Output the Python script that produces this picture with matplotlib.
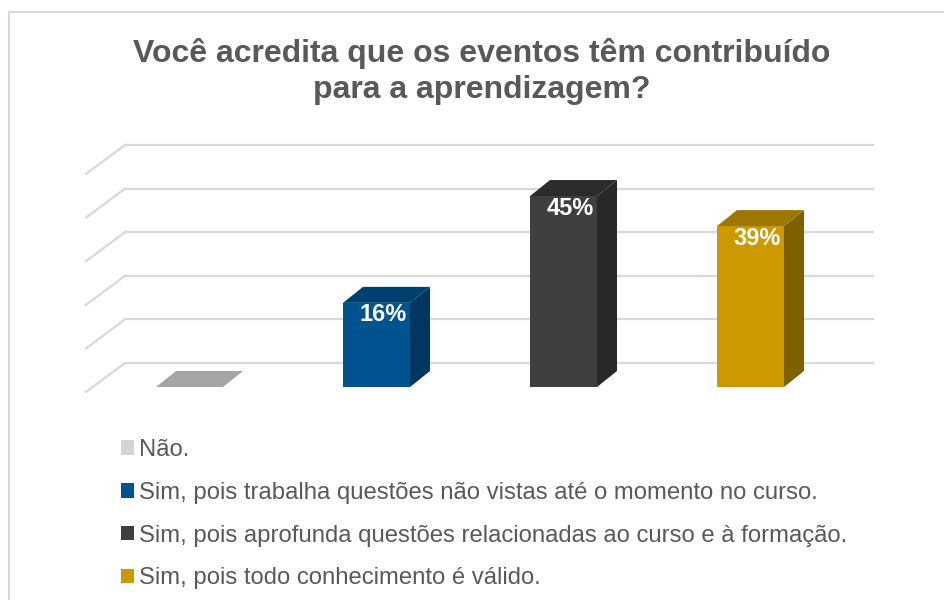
import matplotlib.pyplot as plt
from matplotlib.patches import Polygon, Rectangle, Patch
import numpy as np

plt.rcParams["font.family"] = ["Liberation Sans", "DejaVu Sans"]

# Data
categories = [
    "Não.",
    "Sim, pois trabalha questões não vistas até o momento no curso.",
    "Sim, pois aprofunda questões relacionadas ao curso e à formação.",
    "Sim, pois todo conhecimento é válido.",
]
bar_heights = [0.0, 19.3, 43.8, 36.9]   # drawn height (percent axis)
bar_labels = ["", "16%", "45%", "39%"]
grid_values = [0, 10, 20, 30, 40, 50]

front_colors = ["#D4D4D4", "#01538F", "#3F3F3F", "#CC9900"]
top_colors = ["#A5A5A5", "#00406F", "#2C2C2C", "#9E7700"]
side_colors = ["#BDBDBD", "#00365F", "#282828", "#7F6000"]
text_grey = "#595959"
grid_grey = "#D9D9D9"

fig = plt.figure(figsize=(9.44, 6), dpi=100)
W, H = 944, 600

# chart border (runs past the right and bottom edges)
fig.patches.append(Rectangle((9 / W, -0.05), 1.0, 1 - 12 / H + 0.05,
                             transform=fig.transFigure, fill=False,
                             edgecolor=grid_grey, lw=1.5))

# axes: front plane of the 3D box, x = category, y = percent
ax = fig.add_axes([86 / W, 1 - 392 / H, 748 / W, 261.6 / H])
ax.set_xlim(-0.5, 3.5)
ax.set_ylim(0, 60)
ax.axis("off")

px_x = 4 / 748          # category units per pixel
px_y = 60 / 261.6       # percent per pixel

# depth of the box (back wall offset)
depth_x, depth_y = 39 * px_x, 29 * px_y
for v in grid_values:
    ax.plot([-0.5 + depth_x, 3.5 + depth_x], [v + depth_y, v + depth_y],
            color=grid_grey, lw=1.6, clip_on=False, zorder=1)
    ax.plot([-0.5, -0.5 + depth_x], [v, v + depth_y],
            color=grid_grey, lw=1.6, clip_on=False, zorder=1)

# bars: front face shifted slightly back, bar depth offset
fx, fy = 10 * px_x, 5 * px_y
bx, by = 20 * px_x, 16 * px_y
width = 67 * px_x
x = np.arange(len(categories))
for i, h in enumerate(bar_heights):
    x0 = x[i] - width / 2 + fx
    x1 = x0 + width
    y0 = fy
    y1 = fy + h
    if h > 0:
        ax.add_patch(Polygon([(x1, y0), (x1 + bx, y0 + by), (x1 + bx, y1 + by), (x1, y1)],
                             closed=True, facecolor=side_colors[i], edgecolor="none", zorder=3))
        ax.add_patch(Rectangle((x0, y0), width, h, facecolor=front_colors[i],
                               edgecolor="none", zorder=4))
    ax.add_patch(Polygon([(x0, y1), (x1, y1), (x1 + bx, y1 + by), (x0 + bx, y1 + by)],
                         closed=True, facecolor=top_colors[i], edgecolor="none", zorder=4))
    if bar_labels[i]:
        ax.text(x[i] + fx + 7 * px_x, y1 - 12 * px_y, bar_labels[i],
                ha="center", va="center", color="white", fontsize=17,
                fontweight="bold", zorder=5)

fig.text(482 / W, 1 - 38 / H,
         "Você acredita que os eventos têm contribuído\npara a aprendizagem?",
         ha="center", va="top", fontsize=23, fontweight="bold",
         color=text_grey, linespacing=1.25)

handles = [Patch(facecolor=c, edgecolor="none") for c in front_colors]
fig.legend(handles, categories, loc="upper left",
           bbox_to_anchor=(121 / W, 1 - 439 / H), frameon=False,
           fontsize=17.2, labelcolor=text_grey, handlelength=0.55,
           handleheight=0.55, handletextpad=0.2, labelspacing=0.87,
           borderpad=0, borderaxespad=0)

fig.savefig("out.png", dpi=100)
